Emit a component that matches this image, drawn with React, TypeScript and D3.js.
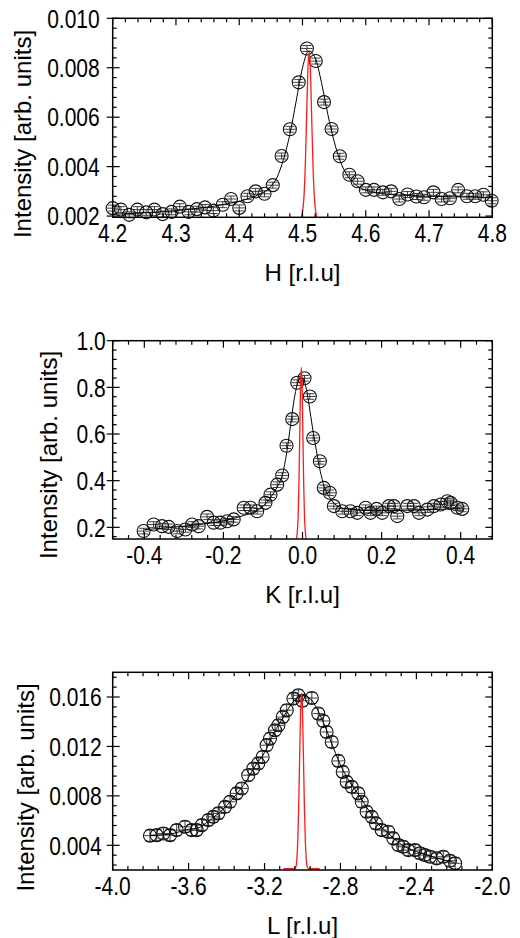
import React from 'react';
import * as d3 from 'd3';

// ---------- Panel 1 : H scan ----------
const H_X = [4.200, 4.213, 4.226, 4.239, 4.253, 4.266, 4.279, 4.293, 4.306, 4.320, 4.333, 4.346, 4.359, 4.374, 4.387, 4.400, 4.413, 4.426, 4.440, 4.453, 4.467, 4.480, 4.494, 4.507, 4.521, 4.534, 4.546, 4.559, 4.574, 4.587, 4.600, 4.613, 4.627, 4.640, 4.653, 4.666, 4.680, 4.692, 4.707, 4.720, 4.733, 4.746, 4.760, 4.773, 4.786, 4.799];
const H_Y = [0.00232, 0.00226, 0.00205, 0.00226, 0.00215, 0.00226, 0.00208, 0.00217, 0.00238, 0.00217, 0.00228, 0.00235, 0.00222, 0.00246, 0.00269, 0.00233, 0.0028, 0.0030, 0.0029, 0.00325, 0.00443, 0.00551, 0.00741, 0.00878, 0.00827, 0.00661, 0.00552, 0.00442, 0.00367, 0.00341, 0.00306, 0.00306, 0.00296, 0.0030, 0.00269, 0.00287, 0.00279, 0.00276, 0.00296, 0.00269, 0.00272, 0.00306, 0.0028, 0.0028, 0.00286, 0.00262];
const H_ERR = 0.00012;
const H_XERR = 0.009;
const H_FIT_X = [4.2, 4.25, 4.3, 4.35, 4.38, 4.41, 4.43, 4.45, 4.46, 4.47, 4.48, 4.49, 4.50, 4.51, 4.52, 4.53, 4.54, 4.55, 4.56, 4.57, 4.58, 4.60, 4.63, 4.67, 4.72, 4.8];
const H_FIT_Y = [0.00207, 0.00213, 0.00222, 0.00236, 0.00249, 0.00267, 0.00286, 0.0032, 0.00358, 0.0043, 0.0053, 0.00665, 0.0080, 0.00868, 0.0084, 0.0074, 0.00612, 0.00502, 0.0042, 0.00367, 0.00335, 0.00305, 0.0029, 0.00283, 0.00279, 0.00275];
const H_RES_X = [4.4985, 4.5025, 4.5045, 4.5065, 4.5085, 4.5105, 4.5125, 4.5145, 4.5165, 4.5185, 4.5225];
const H_RES_Y = [0.00196, 0.00286, 0.00413, 0.00601, 0.0079, 0.00865, 0.0079, 0.00601, 0.00413, 0.00286, 0.00196];
const H_TICKS = [4.2, 4.3, 4.4, 4.5, 4.6, 4.7, 4.8];
const H_YTICKS = [0.002, 0.004, 0.006, 0.008, 0.010];

// ---------- Panel 2 : K scan ----------
const K_X = [-0.4017, -0.3765, -0.3553, -0.3385, -0.3172, -0.2962, -0.2792, -0.2625, -0.2413, -0.2246, -0.2076, -0.1906, -0.174, -0.1486, -0.1316, -0.1147, -0.0937, -0.081, -0.064, -0.0514, -0.0405, -0.026, -0.0134, 0.005, 0.0185, 0.027, 0.044, 0.0539, 0.069, 0.0793, 0.1005, 0.1215, 0.1385, 0.1595, 0.172, 0.1873, 0.2017, 0.2185, 0.2312, 0.2397, 0.265, 0.2818, 0.2945, 0.3157, 0.3325, 0.3494, 0.3663, 0.3747, 0.3916, 0.404];
const K_Y = [0.184, 0.212, 0.205, 0.202, 0.184, 0.191, 0.212, 0.205, 0.245, 0.22, 0.22, 0.226, 0.234, 0.284, 0.284, 0.269, 0.305, 0.34, 0.383, 0.422, 0.55, 0.664, 0.82, 0.839, 0.761, 0.583, 0.483, 0.369, 0.348, 0.291, 0.269, 0.269, 0.262, 0.284, 0.262, 0.279, 0.262, 0.291, 0.291, 0.248, 0.291, 0.291, 0.262, 0.276, 0.291, 0.298, 0.312, 0.305, 0.284, 0.279];
const K_ERR = 0.012;
const K_XERR = 0.0145;
const K_FIT_X = [-0.4, -0.3, -0.2, -0.15, -0.12, -0.1, -0.08, -0.065, -0.05, -0.04, -0.03, -0.02, -0.01, -0.004, 0.003, 0.01, 0.017, 0.025, 0.035, 0.045, 0.055, 0.07, 0.09, 0.12, 0.2, 0.3, 0.4];
const K_FIT_Y = [0.19, 0.205, 0.228, 0.25, 0.268, 0.29, 0.33, 0.37, 0.43, 0.52, 0.64, 0.76, 0.83, 0.845, 0.835, 0.79, 0.72, 0.63, 0.53, 0.44, 0.375, 0.325, 0.29, 0.277, 0.272, 0.275, 0.28];
const K_RES_X = [-0.015, -0.011, -0.009, -0.007, -0.005, -0.003, -0.001, 0.001, 0.003, 0.005, 0.009];
const K_RES_Y = [0.152, 0.249, 0.389, 0.596, 0.80, 0.886, 0.80, 0.596, 0.389, 0.249, 0.152];
const K_TICKS = [-0.4, -0.2, 0, 0.2, 0.4];
const K_YTICKS = [0.2, 0.4, 0.6, 0.8, 1.0];

// ---------- Panel 3 : L scan ----------
const L_X = [-3.8035, -3.768, -3.733, -3.698, -3.663, -3.619, -3.584, -3.557, -3.531, -3.496, -3.47, -3.444, -3.408, -3.382, -3.347, -3.32, -3.286, -3.259, -3.233, -3.21, -3.189, -3.171, -3.145, -3.127, -3.104, -3.083, -3.048, -3.022, -3.0, -2.951, -2.917, -2.89, -2.873, -2.846, -2.811, -2.788, -2.767, -2.741, -2.706, -2.688, -2.662, -2.635, -2.613, -2.583, -2.548, -2.522, -2.495, -2.469, -2.443, -2.407, -2.381, -2.355, -2.328, -2.293, -2.258, -2.223, -2.196];
const L_Y = [0.00478, 0.00482, 0.00496, 0.00482, 0.00523, 0.0055, 0.00523, 0.00523, 0.00563, 0.00604, 0.0063, 0.00658, 0.00711, 0.00752, 0.0082, 0.0086, 0.00967, 0.01021, 0.01062, 0.01115, 0.0121, 0.01264, 0.01331, 0.01371, 0.01438, 0.01493, 0.01587, 0.01614, 0.0157, 0.01592, 0.01466, 0.01406, 0.01317, 0.01236, 0.01083, 0.00994, 0.00913, 0.00873, 0.0082, 0.00752, 0.00671, 0.0063, 0.00577, 0.00523, 0.00509, 0.00456, 0.00402, 0.00388, 0.00361, 0.00361, 0.00335, 0.00321, 0.00307, 0.00294, 0.00307, 0.00275, 0.00254];
const L_ERR = 0.00045;
const L_XERR = 0.03;
const L_FIT_X = [-3.8, -3.7, -3.6, -3.55, -3.5, -3.45, -3.4, -3.35, -3.3, -3.25, -3.2, -3.15, -3.1, -3.05, -3.02, -2.99, -2.95, -2.9, -2.85, -2.8, -2.75, -2.7, -2.65, -2.6, -2.55, -2.5, -2.45, -2.4, -2.3, -2.2];
const L_FIT_Y = [0.0048, 0.0049, 0.0053, 0.0054, 0.0059, 0.0065, 0.0072, 0.0081, 0.0091, 0.0104, 0.0115, 0.0131, 0.0144, 0.0156, 0.0160, 0.0161, 0.0157, 0.0143, 0.0124, 0.0105, 0.0091, 0.0080, 0.0068, 0.0057, 0.0050, 0.0043, 0.0038, 0.0035, 0.0030, 0.0026];
const L_RES_X = [-3.1, -3.045, -3.035, -3.03, -3.025, -3.02, -3.015, -3.01, -3.005, -3.0, -2.995, -2.99, -2.985, -2.98, -2.975, -2.965, -2.91];
const L_RES_Y = [0.0021, 0.00211, 0.00224, 0.00284, 0.00433, 0.00716, 0.0111, 0.01479, 0.01632, 0.01479, 0.0111, 0.00716, 0.00433, 0.00284, 0.00224, 0.00211, 0.0021];
const L_TICKS = [-4.0, -3.6, -3.2, -2.8, -2.4, -2.0];
const L_YTICKS = [0.004, 0.008, 0.012, 0.016];

const FONT = "'Liberation Sans', Arial, Helvetica, sans-serif";

type PanelProps = {
  left: number; right: number; top: number; bottom: number;
  xDomain: [number, number]; yDomain: [number, number];
  xTicks: number[]; yTicks: number[]; xMinor: number; yMinor: number;
  xDec: number; yDec: number; yLabelGap: number;
  xs: number[]; ys: number[]; err: number; xerr: number;
  fitX: number[]; fitY: number[]; resX: number[]; resY: number[];
  xTitle: string; yTitleX: number; yTitleY: number;
};

function minorTicks(d: [number, number], step: number, majors: number[]) {
  const out: number[] = [];
  const i0 = Math.ceil(d[0] / step - 1e-6);
  const i1 = Math.floor(d[1] / step + 1e-6);
  for (let i = i0; i <= i1; i++) {
    const v = i * step;
    if (!majors.some((m) => Math.abs(m - v) < step * 0.01)) out.push(v);
  }
  return out;
}

function Panel(p: PanelProps) {
  const x = d3.scaleLinear().domain(p.xDomain).range([p.left, p.right]);
  const y = d3.scaleLinear().domain(p.yDomain).range([p.bottom, p.top]);
  const line = d3
    .line<[number, number]>()
    .x((d) => x(d[0]))
    .y((d) => y(d[1]))
    .curve(d3.curveMonotoneX);
  const fit = line(p.fitX.map((v, i) => [v, p.fitY[i]]) as [number, number][]) || '';
  const res = line(p.resX.map((v, i) => [v, p.resY[i]]) as [number, number][]) || '';
  const xm = minorTicks(p.xDomain, p.xMinor, p.xTicks);
  const ym = minorTicks(p.yDomain, p.yMinor, p.yTicks);
  const MAJ = 7, MIN = 4, OUT = 6;
  const SY = 1.22;
  const cx = (p.left + p.right) / 2;
  return (
    <g>
      {p.xs.map((v, i) => {
        const px = x(v), py = y(p.ys[i]);
        const e1 = y(p.ys[i] + p.err), e2 = y(p.ys[i] - p.err);
        const hx1 = x(v - p.xerr), hx2 = x(v + p.xerr);
        return (
          <g key={i} stroke="#111" fill="none">
            <line x1={px} x2={px} y1={e1} y2={e2} strokeWidth={0.8} />
            <line x1={px - 4.5} x2={px + 4.5} y1={e1} y2={e1} strokeWidth={0.8} />
            <line x1={px - 4.5} x2={px + 4.5} y1={e2} y2={e2} strokeWidth={0.8} />
            <line x1={hx1} x2={hx2} y1={py} y2={py} strokeWidth={0.8} />
            <circle cx={px} cy={py} r={6.5} strokeWidth={1.1} />
          </g>
        );
      })}
      <path d={fit} fill="none" stroke="#000" strokeWidth={1} />
      <path d={res} fill="none" stroke="#ff1a1a" strokeWidth={1.3} />
      <rect x={p.left} y={p.top} width={p.right - p.left} height={p.bottom - p.top} fill="none" stroke="#000" strokeWidth={1.5} />
      <g stroke="#000" strokeWidth={1.2}>
        {p.xTicks.map((t, i) => (
          <g key={'xt' + i}>
            <line x1={x(t)} x2={x(t)} y1={p.bottom} y2={p.bottom - MAJ} />
            <line x1={x(t)} x2={x(t)} y1={p.top} y2={p.top + MAJ} />
          </g>
        ))}
        {xm.map((t, i) => (
          <g key={'xm' + i}>
            <line x1={x(t)} x2={x(t)} y1={p.bottom} y2={p.bottom - MIN} />
            <line x1={x(t)} x2={x(t)} y1={p.top} y2={p.top + MIN} />
          </g>
        ))}
        {p.yTicks.map((t, i) => (
          <g key={'yt' + i}>
            <line x1={p.left - OUT} x2={p.left + MAJ} y1={y(t)} y2={y(t)} />
            <line x1={p.right} x2={p.right - MAJ} y1={y(t)} y2={y(t)} />
          </g>
        ))}
        {ym.map((t, i) => (
          <g key={'ym' + i}>
            <line x1={p.left} x2={p.left + MIN} y1={y(t)} y2={y(t)} />
            <line x1={p.right} x2={p.right - MIN} y1={y(t)} y2={y(t)} />
          </g>
        ))}
      </g>
      <g fontFamily={FONT} fontSize={21} fill="#000">
        {p.xTicks.map((t, i) => (
          <text
            key={'xl' + i}
            transform={`translate(${x(t)},${p.bottom + 25}) scale(1,${SY})`}
            textAnchor="middle"
          >
            {t.toFixed(p.xDec)}
          </text>
        ))}
        {p.yTicks.map((t, i) => (
          <text
            key={'yl' + i}
            transform={`translate(${p.left - p.yLabelGap},${y(t)}) scale(1,${SY})`}
            dy="0.36em"
            textAnchor="end"
          >
            {t.toFixed(p.yDec)}
          </text>
        ))}
      </g>
      <text x={cx} y={p.bottom + 64} textAnchor="middle" fontFamily={FONT} fontSize={24}>
        {p.xTitle}
      </text>
      <text
        transform={`translate(${p.yTitleX},${p.yTitleY}) rotate(-90)`}
        textAnchor="middle"
        fontFamily={FONT}
        fontSize={24}
      >
        Intensity [arb. units]
      </text>
    </g>
  );
}

export default function App() {
  return (
    <svg width={520} height={938} style={{ position: 'absolute', left: 0, top: 0, background: '#fff' }}>
      <rect x={0} y={0} width={520} height={938} fill="#fff" />
      <Panel
        left={112.7} right={492.3} top={18.3} bottom={217.3}
        xDomain={[4.2, 4.8]} yDomain={[0.00195, 0.010]}
        xTicks={H_TICKS} yTicks={H_YTICKS} xMinor={0.02} yMinor={0.0004}
        xDec={1} yDec={3} yLabelGap={13}
        xs={H_X} ys={H_Y} err={H_ERR} xerr={H_XERR}
        fitX={H_FIT_X} fitY={H_FIT_Y} resX={H_RES_X} resY={H_RES_Y}
        xTitle="H [r.l.u]" yTitleX={30.5} yTitleY={134}
      />
      <Panel
        left={112.7} right={492.3} top={340.7} bottom={539}
        xDomain={[-0.48, 0.48]} yDomain={[0.15, 1.0]}
        xTicks={K_TICKS} yTicks={K_YTICKS} xMinor={0.04} yMinor={0.04}
        xDec={1} yDec={1} yLabelGap={7}
        xs={K_X} ys={K_Y} err={K_ERR} xerr={K_XERR}
        fitX={K_FIT_X} fitY={K_FIT_Y} resX={K_RES_X} resY={K_RES_Y}
        xTitle="K [r.l.u]" yTitleX={57.2} yTitleY={455}
      />
      <Panel
        left={112.7} right={492.3} top={672.3} bottom={870}
        xDomain={[-4.0, -2.0]} yDomain={[0.002, 0.018]}
        xTicks={L_TICKS} yTicks={L_YTICKS} xMinor={0.08} yMinor={0.0008}
        xDec={1} yDec={3} yLabelGap={11}
        xs={L_X} ys={L_Y} err={L_ERR} xerr={L_XERR}
        fitX={L_FIT_X} fitY={L_FIT_Y} resX={L_RES_X} resY={L_RES_Y}
        xTitle="L [r.l.u]" yTitleX={33.9} yTitleY={787.5}
      />
    </svg>
  );
}
